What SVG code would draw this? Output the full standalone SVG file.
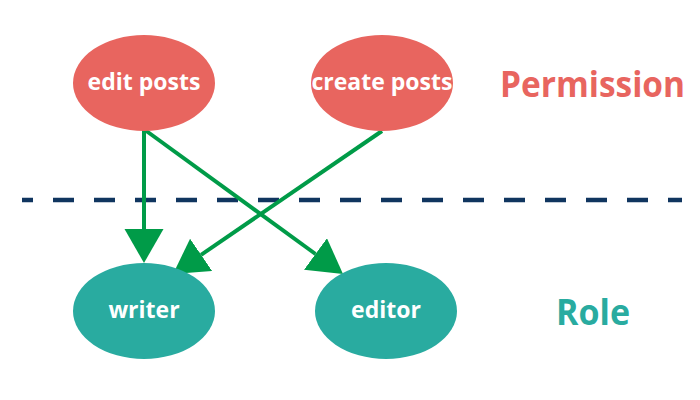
<svg xmlns="http://www.w3.org/2000/svg" width="700" height="400" viewBox="0 0 700 400">
<style>
.perm{fill:#e8655f}
.role{fill:#29aba0}
.nt{font-family:"Open Sans","Liberation Sans",sans-serif;font-weight:700;font-size:23px;fill:#ffffff;text-anchor:middle}
.edge{stroke:#009b48;stroke-width:4;fill:none}
.lbl{font-family:"Open Sans","Liberation Sans",sans-serif;font-weight:700;font-size:35px}
</style>
<defs>
<marker id="ah" markerUnits="userSpaceOnUse" markerWidth="36" markerHeight="40" refX="0" refY="19.5" orient="auto" viewBox="0 0 36 40">
<path d="M0,0 L34,19.5 L0,39 Z" fill="#009b48"/>
</marker>
</defs>
<rect width="700" height="400" fill="#ffffff"/>
<line x1="22" y1="200" x2="682" y2="200" stroke="#10355f" stroke-width="4.5" stroke-dasharray="21 20" stroke-dashoffset="10"/>
<g id="connectors">
<line class="edge" x1="144" y1="130" x2="144" y2="229" marker-end="url(#ah)"/>
<line class="edge" x1="145" y1="130" x2="315.5" y2="254" marker-end="url(#ah)"/>
<line class="edge" x1="382" y1="131" x2="201.1" y2="254.8" marker-end="url(#ah)"/>
</g>
<g id="edit-posts">
<ellipse class="perm" cx="144" cy="83" rx="71" ry="48"/>
<text class="nt" x="144" y="90">edit posts</text>
</g>
<g id="create-posts">
<ellipse class="perm" cx="382" cy="83" rx="71" ry="48"/>
<text class="nt" x="382" y="90">create posts</text>
</g>
<g id="writer">
<ellipse class="role" cx="144" cy="311" rx="71" ry="48"/>
<text class="nt" x="144" y="318">writer</text>
</g>
<g id="editor">
<ellipse class="role" cx="386" cy="311" rx="71" ry="48"/>
<text class="nt" x="386" y="318">editor</text>
</g>
<text class="lbl" x="500" y="97" fill="#e8655f" textLength="185" lengthAdjust="spacingAndGlyphs">Permission</text>
<text class="lbl" x="556" y="325" fill="#29aba0" textLength="74" lengthAdjust="spacingAndGlyphs">Role</text>
</svg>
